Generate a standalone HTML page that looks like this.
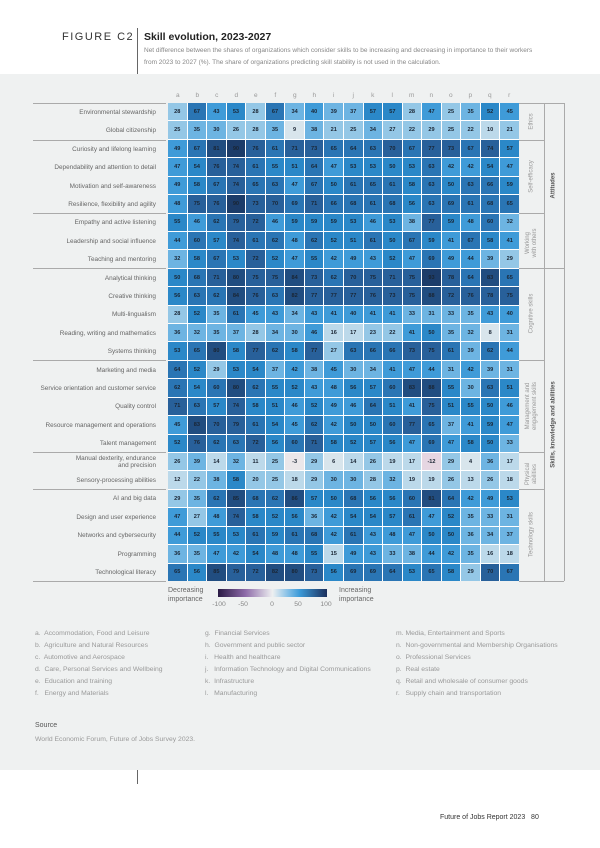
<!DOCTYPE html>
<html><head><meta charset="utf-8"><style>
*{margin:0;padding:0;box-sizing:border-box}
body{width:600px;height:848px;background:#fff;font-family:"Liberation Sans",sans-serif;position:relative;overflow:hidden}
.a{position:absolute}
.panel{left:0;top:74px;width:600px;height:696px;background:#eff1f1}
.grid{left:168px;top:103px;width:351px;height:478px;background:#fff;display:grid;grid-template-columns:repeat(18,1fr);grid-template-rows:repeat(26,1fr);gap:1px}
.grid i{font-style:normal;font-size:5.6px;font-weight:bold;color:#1a2533;display:flex;align-items:center;justify-content:center}
.k0{background:#d8e5ec}.k1{background:#bcd9ea}.k2{background:#94c7e6}.k3{background:#6db4e2}.k4{background:#3f9bd8}.k5{background:#2b88c8}.k6{background:#2a75b4}.k7{background:#28609a}.k8{background:#214d80}.k9{background:#1c3c69}.n0{background:#ebe7ea}.n1{background:#e6d6e2}
.lab{left:36px;width:120px;text-align:right;font-size:6.4px;color:#666;line-height:7px}
.let{top:92px;font-size:6.5px;color:#999;width:19.5px;text-align:center}
.hl{height:1px;background:#aaa}
.vl{width:1px;background:#aaa}
.rot{transform:rotate(-90deg);transform-origin:center;white-space:nowrap;text-align:center;font-size:6px;color:#999;line-height:7px}
.ind{font-size:6.8px;color:#999;line-height:12.1px}
.tk{top:601px;width:24px;text-align:center;font-size:6.8px;color:#888}
</style></head><body>
<div class="a panel"></div>
<div class="a" style="left:62px;top:31px;font-size:11px;letter-spacing:1.5px;color:#333">FIGURE C2</div>
<div class="a vl" style="left:137px;top:28px;height:46px;background:#666"></div>
<div class="a" style="left:144px;top:31px;font-size:10.5px;font-weight:bold;color:#222">Skill evolution, 2023-2027</div>
<div class="a" style="left:144px;top:45px;font-size:6.5px;color:#888;line-height:12px;width:440px">Net difference between the shares of organizations which consider skills to be increasing and decreasing in importance to their workers<br>from 2023 to 2027 (%). The share of organizations predicting skill stability is not used in the calculation.</div>

<div class="a let" style="left:168px">a</div><div class="a let" style="left:187.5px">b</div><div class="a let" style="left:207px">c</div><div class="a let" style="left:226.5px">d</div><div class="a let" style="left:246px">e</div><div class="a let" style="left:265.5px">f</div><div class="a let" style="left:285px">g</div><div class="a let" style="left:304.5px">h</div><div class="a let" style="left:324px">i</div><div class="a let" style="left:343.5px">j</div><div class="a let" style="left:363px">k</div><div class="a let" style="left:382.5px">l</div><div class="a let" style="left:402px">m</div><div class="a let" style="left:421.5px">n</div><div class="a let" style="left:441px">o</div><div class="a let" style="left:460.5px">p</div><div class="a let" style="left:480px">q</div><div class="a let" style="left:499.5px">r</div>

<div class="a lab" style="top:109px">Environmental stewardship</div>
<div class="a lab" style="top:127px">Global citizenship</div>
<div class="a lab" style="top:146px">Curiosity and lifelong learning</div>
<div class="a lab" style="top:164px">Dependability and attention to detail</div>
<div class="a lab" style="top:183px">Motivation and self-awareness</div>
<div class="a lab" style="top:201px">Resilience, flexibility and agility</div>
<div class="a lab" style="top:219px">Empathy and active listening</div>
<div class="a lab" style="top:238px">Leadership and social influence</div>
<div class="a lab" style="top:256px">Teaching and mentoring</div>
<div class="a lab" style="top:275px">Analytical thinking</div>
<div class="a lab" style="top:293px">Creative thinking</div>
<div class="a lab" style="top:311px">Multi-lingualism</div>
<div class="a lab" style="top:330px">Reading, writing and mathematics</div>
<div class="a lab" style="top:348px">Systems thinking</div>
<div class="a lab" style="top:367px">Marketing and media</div>
<div class="a lab" style="top:385px">Service orientation and customer service</div>
<div class="a lab" style="top:403px">Quality control</div>
<div class="a lab" style="top:422px">Resource management and operations</div>
<div class="a lab" style="top:440px">Talent management</div>
<div class="a lab" style="top:455px">Manual dexterity, endurance<br>and precision</div>
<div class="a lab" style="top:477px">Sensory-processing abilities</div>
<div class="a lab" style="top:495px">AI and big data</div>
<div class="a lab" style="top:514px">Design and user experience</div>
<div class="a lab" style="top:532px">Networks and cybersecurity</div>
<div class="a lab" style="top:551px">Programming</div>
<div class="a lab" style="top:569px">Technological literacy</div>

<div class="a hl" style="left:33px;top:103px;width:133px"></div>
<div class="a hl" style="left:33px;top:140px;width:133px"></div>
<div class="a hl" style="left:33px;top:213px;width:133px"></div>
<div class="a hl" style="left:33px;top:268px;width:133px"></div>
<div class="a hl" style="left:33px;top:360px;width:133px"></div>
<div class="a hl" style="left:33px;top:452px;width:133px"></div>
<div class="a hl" style="left:33px;top:489px;width:133px"></div>
<div class="a hl" style="left:33px;top:581px;width:133px"></div>
<div class="a hl" style="left:519px;top:103px;width:45px"></div>
<div class="a hl" style="left:519px;top:140px;width:25px"></div>
<div class="a hl" style="left:519px;top:213px;width:25px"></div>
<div class="a hl" style="left:519px;top:268px;width:45px"></div>
<div class="a hl" style="left:519px;top:360px;width:25px"></div>
<div class="a hl" style="left:519px;top:452px;width:25px"></div>
<div class="a hl" style="left:519px;top:489px;width:25px"></div>
<div class="a hl" style="left:519px;top:581px;width:45px"></div>
<div class="a vl" style="left:544px;top:103px;height:478px"></div>
<div class="a vl" style="left:564px;top:103px;height:478px"></div>

<div class="a rot" style="left:502px;top:118px;width:60px">Ethics</div>
<div class="a rot" style="left:502px;top:173px;width:60px">Self-efficacy</div>
<div class="a rot" style="left:502px;top:236px;width:60px">Working<br>with others</div>
<div class="a rot" style="left:492px;top:310px;width:80px">Cognitive skills</div>
<div class="a rot" style="left:482px;top:399px;width:100px">Management and<br>engagement skills</div>
<div class="a rot" style="left:502px;top:467px;width:60px">Physical<br>abilities</div>
<div class="a rot" style="left:492px;top:531px;width:80px">Technology skills</div>
<div class="a rot" style="left:514px;top:182px;width:80px;color:#555;font-weight:bold">Attitudes</div>
<div class="a rot" style="left:494px;top:421px;width:120px;color:#555;font-weight:bold">Skills, knowledge and abilities</div>

<div class="a grid">
<i class=k2>28</i><i class=k6>67</i><i class=k4>43</i><i class=k5>53</i><i class=k2>28</i><i class=k6>67</i><i class=k3>34</i><i class=k4>40</i><i class=k3>39</i><i class=k3>37</i><i class=k5>57</i><i class=k5>57</i><i class=k2>28</i><i class=k4>47</i><i class=k2>25</i><i class=k3>35</i><i class=k5>52</i><i class=k4>45</i>
<i class=k2>25</i><i class=k3>35</i><i class=k3>30</i><i class=k2>26</i><i class=k2>28</i><i class=k3>35</i><i class=k0>9</i><i class=k3>38</i><i class=k2>21</i><i class=k2>25</i><i class=k3>34</i><i class=k2>27</i><i class=k2>22</i><i class=k2>29</i><i class=k2>25</i><i class=k2>22</i><i class=k1>10</i><i class=k2>21</i>
<i class=k4>49</i><i class=k6>67</i><i class=k8>81</i><i class=k9>90</i><i class=k7>76</i><i class=k6>61</i><i class=k7>71</i><i class=k7>73</i><i class=k6>65</i><i class=k6>64</i><i class=k6>63</i><i class=k7>70</i><i class=k6>67</i><i class=k7>77</i><i class=k7>73</i><i class=k6>67</i><i class=k7>74</i><i class=k5>57</i>
<i class=k4>47</i><i class=k5>54</i><i class=k7>76</i><i class=k7>74</i><i class=k6>61</i><i class=k5>55</i><i class=k5>51</i><i class=k6>64</i><i class=k4>47</i><i class=k5>53</i><i class=k5>53</i><i class=k5>50</i><i class=k5>53</i><i class=k6>63</i><i class=k4>42</i><i class=k4>42</i><i class=k5>54</i><i class=k4>47</i>
<i class=k4>49</i><i class=k5>58</i><i class=k6>67</i><i class=k7>74</i><i class=k6>65</i><i class=k6>63</i><i class=k4>47</i><i class=k6>67</i><i class=k5>50</i><i class=k6>61</i><i class=k6>65</i><i class=k6>61</i><i class=k5>58</i><i class=k6>63</i><i class=k5>50</i><i class=k6>63</i><i class=k6>66</i><i class=k5>59</i>
<i class=k4>48</i><i class=k7>75</i><i class=k7>76</i><i class=k9>90</i><i class=k7>73</i><i class=k7>70</i><i class=k6>69</i><i class=k7>71</i><i class=k6>66</i><i class=k6>68</i><i class=k6>61</i><i class=k6>68</i><i class=k5>56</i><i class=k6>63</i><i class=k6>69</i><i class=k6>61</i><i class=k6>68</i><i class=k6>65</i>
<i class=k5>55</i><i class=k4>46</i><i class=k6>62</i><i class=k7>79</i><i class=k7>72</i><i class=k4>46</i><i class=k5>59</i><i class=k5>59</i><i class=k5>59</i><i class=k5>53</i><i class=k4>46</i><i class=k5>53</i><i class=k3>38</i><i class=k7>77</i><i class=k5>59</i><i class=k4>48</i><i class=k6>60</i><i class=k3>32</i>
<i class=k4>44</i><i class=k6>60</i><i class=k5>57</i><i class=k7>74</i><i class=k6>61</i><i class=k6>62</i><i class=k4>48</i><i class=k6>62</i><i class=k5>52</i><i class=k5>51</i><i class=k6>61</i><i class=k5>50</i><i class=k6>67</i><i class=k5>59</i><i class=k4>41</i><i class=k6>67</i><i class=k5>58</i><i class=k4>41</i>
<i class=k3>32</i><i class=k5>58</i><i class=k6>67</i><i class=k5>53</i><i class=k7>72</i><i class=k5>52</i><i class=k4>47</i><i class=k5>55</i><i class=k4>42</i><i class=k4>49</i><i class=k4>43</i><i class=k5>52</i><i class=k4>47</i><i class=k6>69</i><i class=k4>49</i><i class=k4>44</i><i class=k3>39</i><i class=k2>29</i>
<i class=k5>50</i><i class=k6>68</i><i class=k7>71</i><i class=k8>80</i><i class=k7>75</i><i class=k7>75</i><i class=k8>84</i><i class=k7>73</i><i class=k6>62</i><i class=k7>70</i><i class=k7>75</i><i class=k7>71</i><i class=k7>75</i><i class=k9>93</i><i class=k7>78</i><i class=k6>64</i><i class=k8>83</i><i class=k6>65</i>
<i class=k5>56</i><i class=k6>63</i><i class=k6>62</i><i class=k8>84</i><i class=k7>76</i><i class=k6>63</i><i class=k8>82</i><i class=k7>77</i><i class=k7>77</i><i class=k7>77</i><i class=k7>76</i><i class=k7>73</i><i class=k7>75</i><i class=k8>88</i><i class=k7>72</i><i class=k7>76</i><i class=k7>78</i><i class=k7>75</i>
<i class=k2>28</i><i class=k5>52</i><i class=k3>35</i><i class=k6>61</i><i class=k4>45</i><i class=k4>43</i><i class=k3>34</i><i class=k4>43</i><i class=k4>41</i><i class=k4>40</i><i class=k4>41</i><i class=k4>41</i><i class=k3>33</i><i class=k3>31</i><i class=k3>33</i><i class=k3>35</i><i class=k4>43</i><i class=k4>40</i>
<i class=k3>36</i><i class=k3>32</i><i class=k3>35</i><i class=k3>37</i><i class=k2>28</i><i class=k3>34</i><i class=k3>30</i><i class=k4>46</i><i class=k1>16</i><i class=k1>17</i><i class=k2>23</i><i class=k2>22</i><i class=k4>41</i><i class=k5>50</i><i class=k3>35</i><i class=k3>32</i><i class=k0>8</i><i class=k3>31</i>
<i class=k5>53</i><i class=k6>65</i><i class=k8>80</i><i class=k5>58</i><i class=k7>77</i><i class=k6>62</i><i class=k5>58</i><i class=k7>77</i><i class=k2>27</i><i class=k6>63</i><i class=k6>66</i><i class=k6>66</i><i class=k7>73</i><i class=k7>75</i><i class=k6>61</i><i class=k3>39</i><i class=k6>62</i><i class=k4>44</i>
<i class=k6>64</i><i class=k5>52</i><i class=k2>29</i><i class=k5>53</i><i class=k5>54</i><i class=k3>37</i><i class=k4>42</i><i class=k3>38</i><i class=k4>45</i><i class=k3>30</i><i class=k3>34</i><i class=k4>41</i><i class=k4>47</i><i class=k4>44</i><i class=k3>31</i><i class=k4>42</i><i class=k3>39</i><i class=k3>31</i>
<i class=k6>62</i><i class=k5>54</i><i class=k6>60</i><i class=k8>80</i><i class=k6>62</i><i class=k5>55</i><i class=k5>52</i><i class=k4>43</i><i class=k4>48</i><i class=k5>56</i><i class=k5>57</i><i class=k6>60</i><i class=k8>83</i><i class=k8>88</i><i class=k5>55</i><i class=k3>30</i><i class=k6>63</i><i class=k5>51</i>
<i class=k7>71</i><i class=k6>63</i><i class=k5>57</i><i class=k7>74</i><i class=k5>58</i><i class=k5>51</i><i class=k4>46</i><i class=k5>52</i><i class=k4>49</i><i class=k4>46</i><i class=k6>64</i><i class=k5>51</i><i class=k4>41</i><i class=k7>75</i><i class=k5>51</i><i class=k5>55</i><i class=k5>50</i><i class=k4>46</i>
<i class=k4>45</i><i class=k8>83</i><i class=k7>70</i><i class=k7>79</i><i class=k6>61</i><i class=k5>54</i><i class=k4>45</i><i class=k6>62</i><i class=k4>42</i><i class=k5>50</i><i class=k5>50</i><i class=k6>60</i><i class=k7>77</i><i class=k6>65</i><i class=k3>37</i><i class=k4>41</i><i class=k5>59</i><i class=k4>47</i>
<i class=k5>52</i><i class=k7>76</i><i class=k6>62</i><i class=k6>63</i><i class=k7>72</i><i class=k5>56</i><i class=k6>60</i><i class=k7>71</i><i class=k5>58</i><i class=k5>52</i><i class=k5>57</i><i class=k5>56</i><i class=k4>47</i><i class=k6>69</i><i class=k4>47</i><i class=k5>58</i><i class=k5>50</i><i class=k3>33</i>
<i class=k2>26</i><i class=k3>39</i><i class=k1>14</i><i class=k3>32</i><i class=k1>11</i><i class=k2>25</i><i class=n0>-3</i><i class=k2>29</i><i class=k0>6</i><i class=k1>14</i><i class=k2>26</i><i class=k1>19</i><i class=k1>17</i><i class=n1>-12</i><i class=k2>29</i><i class=k0>4</i><i class=k3>36</i><i class=k1>17</i>
<i class=k1>12</i><i class=k2>22</i><i class=k3>38</i><i class=k5>58</i><i class=k2>20</i><i class=k2>25</i><i class=k1>18</i><i class=k2>29</i><i class=k3>30</i><i class=k3>30</i><i class=k2>28</i><i class=k3>32</i><i class=k1>19</i><i class=k1>19</i><i class=k2>26</i><i class=k1>13</i><i class=k2>26</i><i class=k1>18</i>
<i class=k2>29</i><i class=k3>35</i><i class=k6>62</i><i class=k8>85</i><i class=k6>68</i><i class=k6>62</i><i class=k8>86</i><i class=k5>57</i><i class=k5>50</i><i class=k6>68</i><i class=k5>56</i><i class=k5>56</i><i class=k6>60</i><i class=k8>81</i><i class=k6>64</i><i class=k4>42</i><i class=k4>49</i><i class=k5>53</i>
<i class=k4>47</i><i class=k2>27</i><i class=k4>48</i><i class=k7>74</i><i class=k5>58</i><i class=k5>52</i><i class=k5>56</i><i class=k3>36</i><i class=k4>42</i><i class=k5>54</i><i class=k5>54</i><i class=k5>57</i><i class=k6>61</i><i class=k4>47</i><i class=k5>52</i><i class=k3>35</i><i class=k3>33</i><i class=k3>31</i>
<i class=k4>44</i><i class=k5>52</i><i class=k5>55</i><i class=k5>53</i><i class=k6>61</i><i class=k5>59</i><i class=k6>61</i><i class=k6>68</i><i class=k4>42</i><i class=k6>61</i><i class=k4>43</i><i class=k4>48</i><i class=k4>47</i><i class=k5>50</i><i class=k5>50</i><i class=k3>36</i><i class=k3>34</i><i class=k3>37</i>
<i class=k3>36</i><i class=k3>35</i><i class=k4>47</i><i class=k4>42</i><i class=k5>54</i><i class=k4>48</i><i class=k4>48</i><i class=k5>55</i><i class=k1>15</i><i class=k4>49</i><i class=k4>43</i><i class=k3>33</i><i class=k3>38</i><i class=k4>44</i><i class=k4>42</i><i class=k3>35</i><i class=k1>16</i><i class=k1>18</i>
<i class=k6>65</i><i class=k5>56</i><i class=k8>85</i><i class=k7>79</i><i class=k7>72</i><i class=k8>82</i><i class=k8>80</i><i class=k7>73</i><i class=k5>56</i><i class=k6>69</i><i class=k6>69</i><i class=k6>64</i><i class=k5>53</i><i class=k6>65</i><i class=k5>58</i><i class=k2>29</i><i class=k7>70</i><i class=k6>67</i>
</div>

<div class="a" style="left:168px;top:587px;font-size:7px;color:#666;line-height:8.5px">Decreasing<br>importance</div>
<div class="a" style="left:218px;top:589px;width:109px;height:8px;background:linear-gradient(to right,#2a1a44 0%,#8d6aa8 25%,#eef0f1 50%,#7ebde6 65%,#3b9ad8 75%,#1b2f5c 100%)"></div>
<div class="a tk" style="left:207px">-100</div>
<div class="a tk" style="left:231px">-50</div>
<div class="a tk" style="left:260px">0</div>
<div class="a tk" style="left:286px">50</div>
<div class="a tk" style="left:314px">100</div>
<div class="a" style="left:339px;top:587px;font-size:7px;color:#666;line-height:8.5px">Increasing<br>importance</div>

<div class="a ind" style="left:35px;top:628px">a.&nbsp; Accommodation, Food and Leisure<br>b.&nbsp; Agriculture and Natural Resources<br>c.&nbsp; Automotive and Aerospace<br>d.&nbsp; Care, Personal Services and Wellbeing<br>e.&nbsp; Education and training<br>f.&nbsp;&nbsp; Energy and Materials</div>
<div class="a ind" style="left:205px;top:628px">g.&nbsp; Financial Services<br>h.&nbsp; Government and public sector<br>i.&nbsp;&nbsp; Health and healthcare<br>j.&nbsp;&nbsp; Information Technology and Digital Communications<br>k.&nbsp; Infrastructure<br>l.&nbsp;&nbsp; Manufacturing</div>
<div class="a ind" style="left:396px;top:628px">m. Media, Entertainment and Sports<br>n.&nbsp; Non-governmental and Membership Organisations<br>o.&nbsp; Professional Services<br>p.&nbsp; Real estate<br>q.&nbsp; Retail and wholesale of consumer goods<br>r.&nbsp;&nbsp; Supply chain and transportation</div>

<div class="a" style="left:35px;top:722px;font-size:7px;color:#555">Source</div>
<div class="a" style="left:35px;top:736px;font-size:6.8px;color:#999">World Economic Forum, Future of Jobs Survey 2023.</div>

<div class="a vl" style="left:137px;top:770px;height:14px;background:#666"></div>
<div class="a" style="left:440px;top:814px;font-size:7px;color:#333">Future of Jobs Report 2023&nbsp;&nbsp;&nbsp;80</div>
</body></html>
